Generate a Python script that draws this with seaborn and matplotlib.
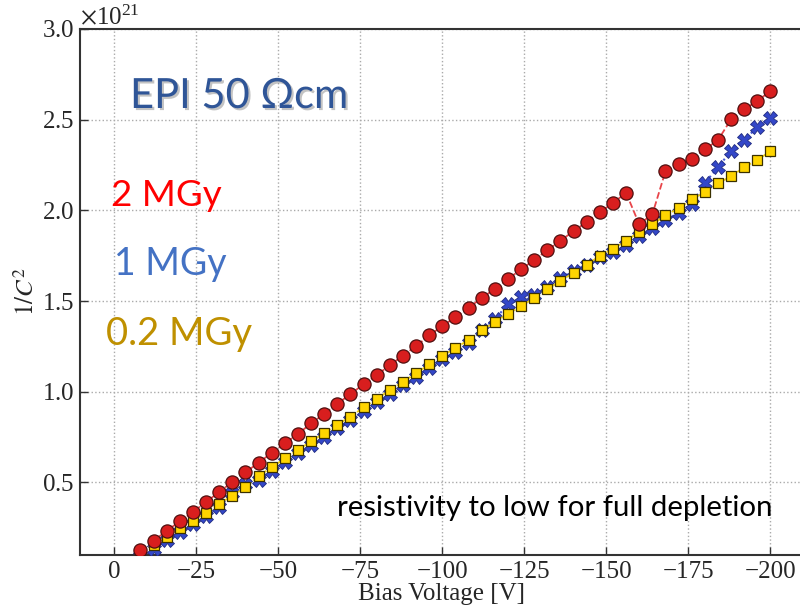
import matplotlib
matplotlib.use("Agg")
import matplotlib.pyplot as plt
import matplotlib.patheffects as pe
import pandas as pd
import seaborn as sns

voltage = [-8, -12, -16, -20, -24, -28, -32, -36, -40, -44, -48, -52, -56, -60,
           -64, -68, -72, -76, -80, -84, -88, -92, -96, -100, -104, -108, -112,
           -116, -120, -124, -128, -132, -136, -140, -144, -148, -152, -156,
           -160, -164, -168, -172, -176, -180, -184, -188, -192, -196, -200]

inv_c2_2mgy = [0.127, 0.178, 0.233, 0.285, 0.337, 0.392, 0.447, 0.502, 0.556,
               0.608, 0.663, 0.716, 0.767, 0.825, 0.878, 0.933, 0.987, 1.041,
               1.092, 1.146, 1.199, 1.252, 1.310, 1.362, 1.411, 1.464, 1.515,
               1.568, 1.622, 1.674, 1.727, 1.780, 1.833, 1.885, 1.936, 1.990,
               2.041, 2.096, 1.923, 1.978, 2.215, 2.255, 2.285, 2.336, 2.387,
               2.502, 2.556, 2.604, 2.657]

inv_c2_1mgy = [0.095, 0.135, 0.180, 0.228, 0.268, 0.314, 0.363, 0.440, 0.490,
               0.515, 0.564, 0.612, 0.660, 0.706, 0.752, 0.798, 0.843, 0.893,
               0.941, 0.988, 1.035, 1.082, 1.130, 1.179, 1.220, 1.266, 1.340,
               1.400, 1.481, 1.521, 1.533, 1.578, 1.625, 1.668, 1.700, 1.740,
               1.770, 1.808, 1.860, 1.905, 1.945, 1.987, 2.035, 2.151, 2.237,
               2.328, 2.389, 2.458, 2.507]

inv_c2_02mgy = [0.115, 0.155, 0.200, 0.248, 0.288, 0.334, 0.383, 0.426, 0.473,
                0.535, 0.584, 0.632, 0.680, 0.726, 0.772, 0.818, 0.863, 0.913,
                0.961, 1.008, 1.055, 1.102, 1.150, 1.199, 1.240, 1.286, 1.338,
                1.383, 1.430, 1.470, 1.518, 1.564, 1.612, 1.655, 1.700, 1.749,
                1.788, 1.832, 1.881, 1.923, 1.972, 2.011, 2.060, 2.100, 2.148,
                2.188, 2.237, 2.279, 2.325]

scale = 1e21
x_ticks = [0, -25, -50, -75, -100, -125, -150, -175, -200]
y_ticks = [0.5, 1.0, 1.5, 2.0, 2.5, 3.0]

sns.set_style("ticks")
plt.rcParams["font.family"] = ["Liberation Serif", "DejaVu Serif"]
plt.rcParams["mathtext.fontset"] = "stix"

fig = plt.figure(figsize=(8.0, 6.11), dpi=100)
ax = fig.add_axes([0.1, 0.0917, 0.9025, 0.861])

df = pd.DataFrame({
    "V": voltage,
    "d1": [v * scale for v in inv_c2_1mgy],
    "d02": [v * scale for v in inv_c2_02mgy],
    "d2": [v * scale for v in inv_c2_2mgy],
})

sns.lineplot(data=df, x="V", y="d1", ax=ax, sort=False, color="#4a5bd6",
             linestyle=":", linewidth=1.5, marker="X", markersize=10,
             markerfacecolor="#3347c8", markeredgecolor="#1f2a80",
             markeredgewidth=0.6, zorder=3)
sns.lineplot(data=df, x="V", y="d02", ax=ax, sort=False, color="#f2d21a",
             linestyle="--", linewidth=1.3, marker="s", markersize=7.5,
             markerfacecolor="#ffd500", markeredgecolor="#3a3000",
             markeredgewidth=0.9, zorder=4)
sns.lineplot(data=df, x="V", y="d2", ax=ax, sort=False, color="#e8454a",
             linestyle="--", linewidth=1.3, marker="o", markersize=9.5,
             markerfacecolor="#d81e1e", markeredgecolor="#501010",
             markeredgewidth=0.9, zorder=5)

ax.set_xlim(10.4, -209.6)
ax.set_ylim(0.1 * scale, 3.0 * scale)
ax.set_xticks(x_ticks)
ax.set_yticks([t * scale for t in y_ticks])
ax.ticklabel_format(axis="y", style="sci", scilimits=(0, 0), useMathText=True)
ax.yaxis.get_offset_text().set_fontsize(18)

ax.grid(True, linestyle=":", color="#aaaaaa", linewidth=1.0)
ax.tick_params(direction="in", length=6, width=1.0, labelsize=18,
               color="#333333", pad=4)
for side in ["left", "bottom", "top"]:
    ax.spines[side].set_linewidth(1.5)
    ax.spines[side].set_color("#333333")
ax.spines["right"].set_visible(False)

ax.set_xlabel("Bias Voltage [V]", fontsize=18, labelpad=0)
ax.set_ylabel("$1/C^2$", fontsize=18, labelpad=2)

sans = ["Lato", "DejaVu Sans"]
fig.text(130 / 800, 1 - 96 / 611, "EPI 50 \u03a9cm", family=sans, fontsize=30,
         color="#2f5597", ha="left", va="center",
         path_effects=[pe.withSimplePatchShadow(offset=(1.5, -1.5),
                                                shadow_rgbFace="#888888",
                                                alpha=0.5)])
fig.text(111 / 800, 1 - 196 / 611, "2 MGy", family=sans, fontsize=26.5,
         color="#ff0000", ha="left", va="center")
fig.text(114 / 800, 1 - 264 / 611, "1 MGy", family=sans, fontsize=27,
         color="#4472c4", ha="left", va="center")
fig.text(106 / 800, 1 - 334 / 611, "0.2 MGy", family=sans, fontsize=27.5,
         color="#bf9000", ha="left", va="center")
fig.text(337 / 800, 1 - 508 / 611, "resistivity to low for full depletion",
         family=sans, fontsize=21.2, color="black", ha="left", va="center")

fig.savefig("out.png", dpi=100)
